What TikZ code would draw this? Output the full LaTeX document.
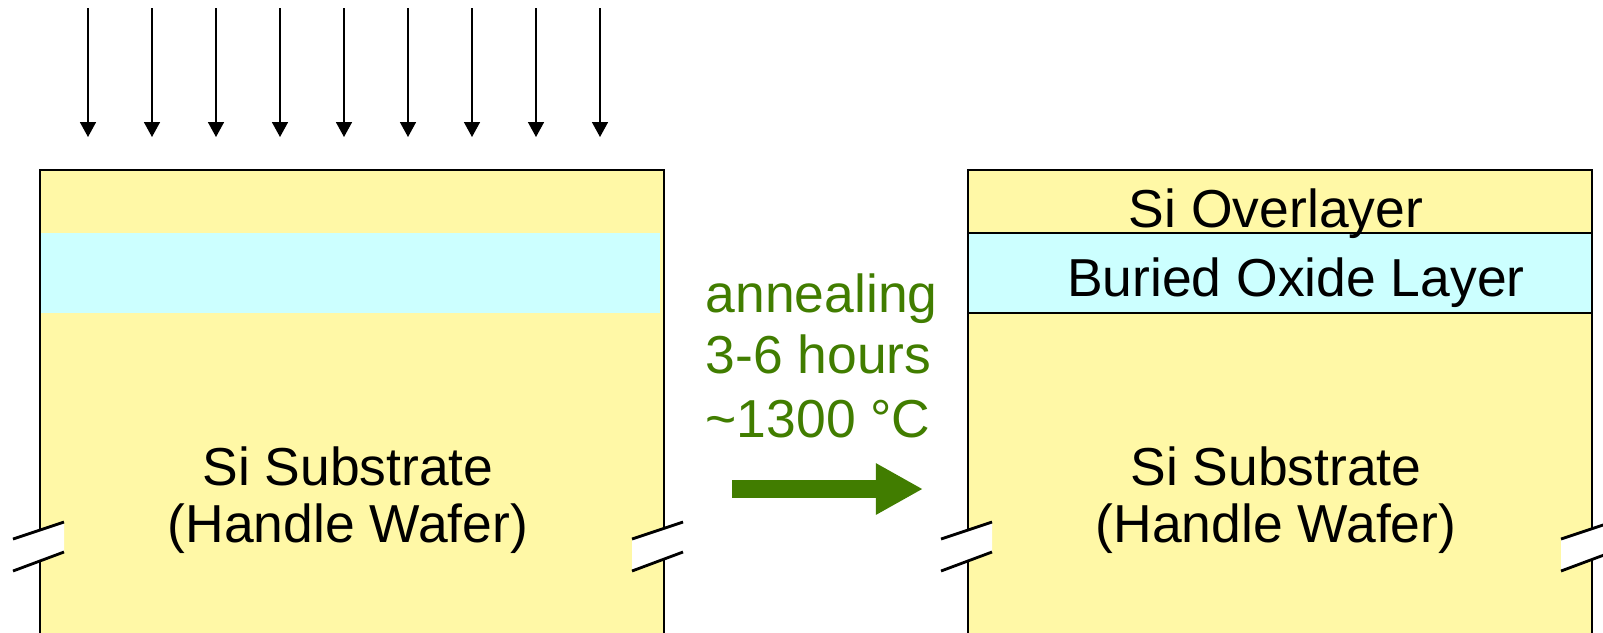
\documentclass[tikz,border=0pt]{standalone}
\usepackage{fontspec}
\setmainfont{Liberation Sans}
\usetikzlibrary{arrows.meta}
\definecolor{siyellow}{RGB}{255,248,166}
\definecolor{oxidecyan}{RGB}{204,255,255}
\definecolor{annealgreen}{RGB}{65,125,0}
\begin{document}
\begin{tikzpicture}[
    x=0.01cm, y=-0.01cm,
    wafer/.style={draw=black, line width=0.5pt},
    breakline/.style={draw=black, line width=0.8pt},
    implant/.style={draw=black, line width=0.45pt, -{Triangle[length=0.15cm, width=0.16cm]}},
    heat/.style={draw=annealgreen, line width=0.18cm, -{Triangle[length=0.47cm, width=0.48cm]}},
    waferlabel/.style={font=\fontsize{15.2pt}{16.5pt}\selectfont, inner sep=0pt, anchor=base},
    steplabel/.style={font=\fontsize{15.2pt}{17.9pt}\selectfont, text=annealgreen, inner sep=0pt, anchor=base west}
]
    \useasboundingbox (0,0) rectangle (1603,632);

    % implanted wafer
    \fill[siyellow] (40,170) rectangle (664,650);
    \fill[oxidecyan] (40,233) rectangle (660,313);
    \draw[wafer] (40,650) |- (664,170) -- (664,650);
    \foreach \i in {0,...,8}
        \draw[implant] ({88+64*\i},8) -- ({88+64*\i},137);

    % SOI wafer
    \fill[siyellow] (968,170) rectangle (1592,650);
    \fill[oxidecyan] (968,233) rectangle (1592,313);
    \draw[wafer] (968,233) -- (1592,233) (968,313) -- (1592,313);
    \draw[wafer] (968,650) |- (1592,170) -- (1592,650);

    % break marks
    \foreach \bx in {13,632,941,1561} {
        \fill[white] (\bx,539) -- ++(51,-17) -- ++(0,30) -- ++(-51,19) -- cycle;
        \draw[breakline] (\bx,539) -- ++(51,-17);
        \draw[breakline] (\bx,571) -- ++(51,-19);
    }

    \node[waferlabel] (subL) at (348,485) {Si Substrate};
    \node[waferlabel] (handleL) at (348,542) {(Handle Wafer)};
    \node[waferlabel] (overlayer) at (1276,227) {Si Overlayer};
    \node[waferlabel] (box) at (1296,296) {Buried Oxide Layer};
    \node[waferlabel] (subR) at (1276,485) {Si Substrate};
    \node[waferlabel] (handleR) at (1276,542) {(Handle Wafer)};

    \node[steplabel] (anneal) at (705,312) {annealing};
    \node[steplabel] (time) at (705,373) {3-6 hours};
    \node[steplabel] (temp) at (705,437) {\textasciitilde1300 °C};
    \coordinate (heatA) at (732,489);
    \coordinate (heatB) at (923,489);
    \draw[heat] (heatA) -- (heatB);
\end{tikzpicture}
\end{document}
